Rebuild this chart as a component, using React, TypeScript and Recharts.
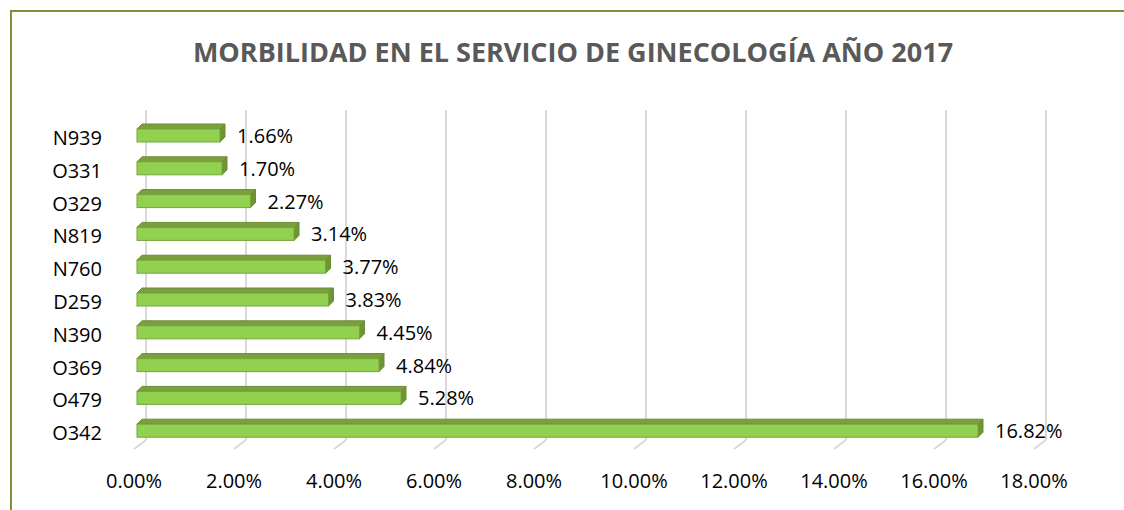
import { BarChart, Bar, XAxis, YAxis, CartesianGrid, LabelList } from 'recharts';

const categories = ['N939', 'O331', 'O329', 'N819', 'N760', 'D259', 'N390', 'O369', 'O479', 'O342'];
const percentages = [1.66, 1.7, 2.27, 3.14, 3.77, 3.83, 4.45, 4.84, 5.28, 16.82];
const xTicks = [0, 2, 4, 6, 8, 10, 12, 14, 16, 18];

const data = categories.map((name, i) => ({ name, value: percentages[i] }));

const FONT = '"Open Sans", sans-serif';
const DEPTH = 5;

// 3D-looking bar: front face + top face + right side
function Bar3D(props: any) {
  const { x, y, width, height } = props;
  if (width == null || width <= 0) return null;
  const d = DEPTH;
  return (
    <g>
      <polygon
        points={`${x},${y} ${x + width},${y} ${x + width + d},${y - d} ${x + d},${y - d}`}
        fill="#7b9f3e"
        stroke="#6b8e32"
        strokeWidth={1}
      />
      <polygon
        points={`${x + width},${y} ${x + width + d},${y - d} ${x + width + d},${y + height - d} ${x + width},${y + height}`}
        fill="#6f9436"
        stroke="#6b8e32"
        strokeWidth={1}
      />
      <rect x={x} y={y} width={width} height={height} fill="#92d050" stroke="#76a53a" strokeWidth={1} />
    </g>
  );
}

// gridline sits on the back wall, then runs down-left across the floor
function GridLine(props: any) {
  const { x1 } = props;
  const bx = x1 + 9;
  return (
    <g key={`g-${x1}`}>
      <line x1={bx} y1={110} x2={bx} y2={440} stroke="#d9d9d9" strokeWidth={2} />
      <line x1={bx} y1={440} x2={bx - 12} y2={449} stroke="#d9d9d9" strokeWidth={2} />
    </g>
  );
}

function XTick(props: any) {
  const { x, y, payload } = props;
  return (
    <text x={x - 3} y={y + 25} textAnchor="middle" dominantBaseline="central" fontFamily={FONT} fontSize={20} fill="#000">
      {`${Number(payload.value).toFixed(2)}%`}
    </text>
  );
}

function YTick(props: any) {
  const { x, y, payload } = props;
  return (
    <text x={x - 27} y={y + 2} textAnchor="end" dominantBaseline="central" fontFamily={FONT} fontSize={20} fill="#000">
      {payload.value}
    </text>
  );
}

function ValueLabel(props: any) {
  const { x, y, width, height, value } = props;
  return (
    <text x={x + width + 17} y={y + height / 2} dominantBaseline="central" fontFamily={FONT} fontSize={20} fill="#000">
      {`${Number(value).toFixed(2)}%`}
    </text>
  );
}

export default function App() {
  return (
    <div style={{ position: 'absolute', left: 0, top: 0, width: 1124, height: 510, background: '#fff', overflow: 'hidden' }}>
      <div
        style={{
          position: 'absolute',
          left: 10,
          top: 10,
          width: 1124,
          height: 510,
          borderTop: '2px solid #77933c',
          borderLeft: '2px solid #77933c',
        }}
      />
      <div
        style={{
          position: 'absolute',
          left: 0,
          top: 38,
          width: 1146,
          textAlign: 'center',
          fontFamily: FONT,
          fontWeight: 700,
          fontSize: 27,
          lineHeight: '27px',
          color: '#595959',
        }}
      >
        MORBILIDAD EN EL SERVICIO DE GINECOLOGÍA AÑO 2017
      </div>
      <div style={{ position: 'absolute', left: 0, top: 0 }}>
        <BarChart
          width={1124}
          height={510}
          data={data}
          layout="vertical"
          margin={{ top: 119, right: 87, bottom: 33, left: 0 }}
        >
          <CartesianGrid horizontal={false} vertical={GridLine} stroke="#d9d9d9" />
          <XAxis
            type="number"
            domain={[0, 18]}
            ticks={xTicks}
            axisLine={false}
            tickLine={false}
            height={30}
            tick={XTick}
            interval={0}
          />
          <YAxis
            type="category"
            dataKey="name"
            width={137}
            axisLine={false}
            tickLine={false}
            tick={YTick}
            interval={0}
          />
          <Bar dataKey="value" barSize={13} shape={Bar3D} isAnimationActive={false}>
            <LabelList dataKey="value" content={ValueLabel} />
          </Bar>
        </BarChart>
      </div>
    </div>
  );
}
